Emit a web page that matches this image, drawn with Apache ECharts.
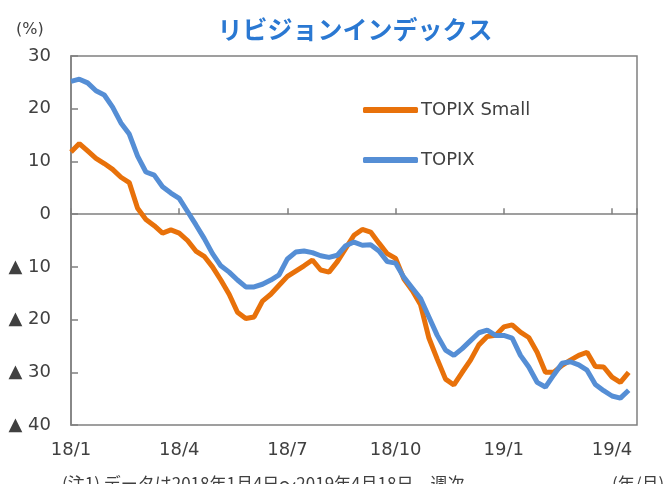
<!DOCTYPE html>
<html>
<head>
    <meta charset="utf-8">
    <title>リビジョンインデックス</title>
    <script src="https://cdn.jsdelivr.net/npm/echarts@6/dist/echarts.min.js"></script>
    <style>
        body { margin: 0; background: #fff; }
        #chart_div { width: 672px; height: 484px; }
    </style>
</head>
<body>
    <div id="chart_div"></div>

    <script>
        // 週次データ 2018/1/4 ～ 2019/4/18 (68週)
        const tickLabels = ['18/1', '18/4', '18/7', '18/10', '19/1', '19/4'];
        const weeksPerTick = 13;

        const topixSmall = [
            11.8, 13.4, 12.0, 10.6, 9.6, 8.5, 7.0, 6.0, 1.1, -1.0,
            -2.2, -3.6, -3.0, -3.6, -5.0, -7.0, -8.0, -10.0, -12.5, -15.2,
            -18.6, -19.8, -19.5, -16.5, -15.2, -13.5, -11.8, -10.8, -9.8, -8.7,
            -10.6, -11.0, -9.0, -6.5, -4.0, -2.9, -3.4, -5.5, -7.5, -8.4,
            -12.3, -14.5, -17.2, -23.5, -27.5, -31.3, -32.4, -30.0, -27.7, -24.8,
            -23.2, -23.0, -21.4, -21.0, -22.4, -23.4, -26.2, -30.0, -30.0, -28.7,
            -27.7, -26.8, -26.2, -28.9, -29.0, -30.9, -31.9, -30.0
        ];

        const topix = [
            25.2, 25.6, 24.9, 23.4, 22.6, 20.3, 17.3, 15.2, 11.0, 8.0,
            7.4, 5.2, 4.0, 3.0, 0.5, -2.0, -4.6, -7.5, -9.8, -11.0,
            -12.5, -13.8, -13.8, -13.3, -12.5, -11.5, -8.5, -7.2, -7.0, -7.3,
            -7.9, -8.2, -7.8, -6.0, -5.3, -5.9, -5.8, -7.0, -9.0, -9.3,
            -12.0, -14.0, -16.0, -19.5, -23.0, -25.8, -26.8, -25.5, -24.0, -22.5,
            -22.0, -23.0, -23.0, -23.5, -26.8, -29.0, -31.9, -32.8, -30.5, -28.3,
            -28.0, -28.6, -29.6, -32.3, -33.5, -34.5, -34.9, -33.4
        ];

        const txtColor = '#404040';
        const axisColor = '#808080';
        const font = "'DejaVu Sans', sans-serif";

        function xLabel(v) {
            if (v % weeksPerTick !== 0) return '';
            return tickLabels[v / weeksPerTick] || '';
        }

        const myChart = echarts.init(document.getElementById('chart_div'));

        const option = {
            animation: false,
            title: {
                text: 'リビジョンインデックス',
                left: 350,
                textAlign: 'center',
                top: 12,
                textStyle: {
                    fontFamily: "'Noto Sans CJK JP', sans-serif",
                    fontSize: 25,
                    fontWeight: 'bold',
                    color: '#2a78d2'
                }
            },
            legend: {
                orient: 'vertical',
                left: 358,
                top: 96,
                itemWidth: 55,
                itemHeight: 6,
                itemGap: 32,
                icon: 'roundRect',
                textStyle: { fontFamily: font, fontSize: 18, color: txtColor, padding: [0, 0, 0, -2] },
                data: ['TOPIX Small', 'TOPIX']
            },
            grid: {
                left: 71,
                right: 35,
                top: 56,
                bottom: 59,
                show: true,
                borderColor: axisColor,
                borderWidth: 1.5
            },
            graphic: [
                { type: 'text', left: 16, top: 22, style: { text: '(%)', font: "16px 'DejaVu Sans'", fill: txtColor } },
                { type: 'text', left: 612, top: 475, style: { text: '(年/月)', font: "17px 'Noto Sans CJK JP'", fill: txtColor } },
                { type: 'text', left: 62, top: 475, style: { text: '(注1) データは2018年1月4日～2019年4月18日、週次', font: "17px 'Noto Sans CJK JP'", fill: txtColor } }
            ],
            xAxis: [
                {
                    type: 'value',
                    min: 0,
                    max: 68,
                    interval: weeksPerTick,
                    axisLine: { onZero: true, lineStyle: { color: axisColor, width: 1.5 } },
                    axisTick: { inside: true, length: 6, lineStyle: { color: axisColor, width: 1.5 } },
                    axisLabel: { show: false },
                    splitLine: { show: false }
                },
                {
                    type: 'value',
                    position: 'bottom',
                    min: 0,
                    max: 68,
                    interval: weeksPerTick,
                    axisLine: { show: false, onZero: false },
                    axisTick: { show: false },
                    splitLine: { show: false },
                    axisLabel: {
                        margin: 16,
                        fontFamily: font,
                        fontSize: 18,
                        color: txtColor,
                        formatter: xLabel
                    }
                }
            ],
            yAxis: {
                type: 'value',
                min: -40,
                max: 30,
                interval: 10,
                axisLine: { show: true, lineStyle: { color: axisColor, width: 1.5 } },
                axisTick: { show: true, inside: true, length: 7, lineStyle: { color: axisColor, width: 1.5 } },
                splitLine: { show: false },
                axisLabel: {
                    margin: 20,
                    fontFamily: font,
                    fontSize: 18,
                    color: txtColor,
                    formatter: v => v < 0 ? '▲ ' + (-v) : String(v)
                }
            },
            series: [
                {
                    name: 'TOPIX Small',
                    type: 'line',
                    xAxisIndex: 0,
                    showSymbol: false,
                    data: topixSmall.map((v, i) => [i, v]),
                    itemStyle: { color: '#e8710a' },
                    lineStyle: { color: '#e8710a', width: 5 }
                },
                {
                    name: 'TOPIX',
                    type: 'line',
                    xAxisIndex: 0,
                    showSymbol: false,
                    data: topix.map((v, i) => [i, v]),
                    itemStyle: { color: '#558ed5' },
                    lineStyle: { color: '#558ed5', width: 5 }
                }
            ]
        };

        myChart.setOption(option);
    </script>
</body>
</html>
